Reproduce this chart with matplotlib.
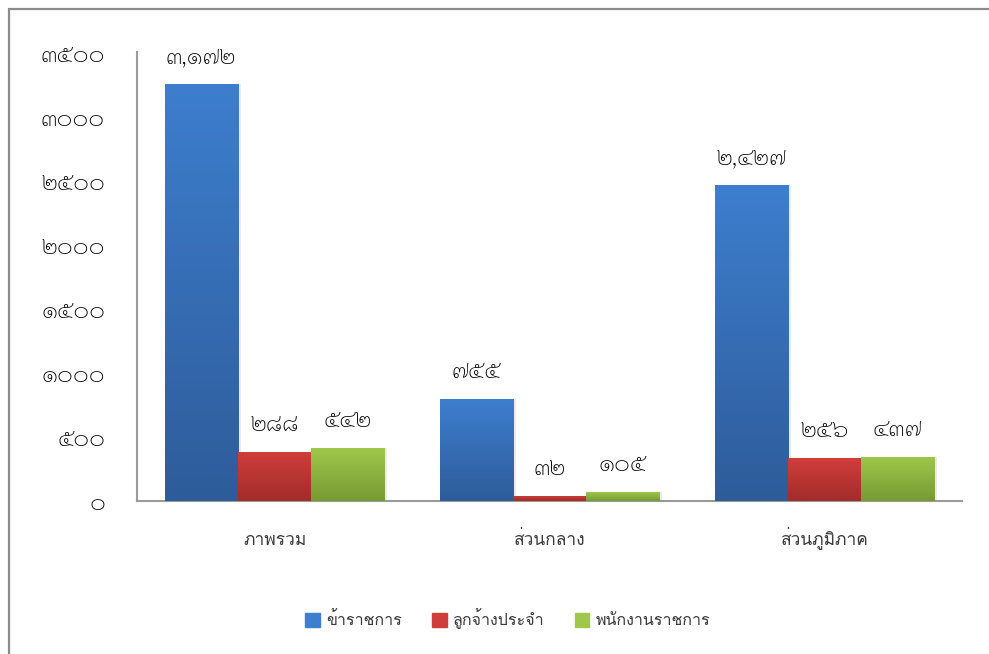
import numpy as np
import matplotlib
matplotlib.use("Agg")
import matplotlib.pyplot as plt
from matplotlib.colors import LinearSegmentedColormap
from matplotlib.patches import Rectangle

# ---- data ------------------------------------------------------------------
categories = ["ภาพรวม", "ส่วนกลาง", "ส่วนภูมิภาค"]
series = ["ข้าราชการ", "ลูกจ้างประจำ", "พนักงานราชการ"]
# bar heights as drawn (the typed labels don't quite match the drawn bars)
civil_servants = [3250, 795, 2460]
permanent_staff = [382, 39, 335]
gov_employees = [413, 70, 343]
# data labels as typed on the chart
civil_labels = ["๓,๑๗๒", "๗๕๕", "๒,๔๒๗"]
permanent_labels = ["๒๘๘", "๓๒", "๒๕๖"]
gov_labels = ["๕๔๒", "๑๐๕", "๔๓๗"]
y_ticks = [0, 500, 1000, 1500, 2000, 2500, 3000, 3500]
y_tick_labels = ["๐", "๕๐๐", "๑๐๐๐", "๑๕๐๐", "๒๐๐๐", "๒๕๐๐", "๓๐๐๐", "๓๕๐๐"]

# top / bottom of each bar gradient
GRADS = [("#3d7ece", "#2e5c9a"), ("#d03e3b", "#a22c2a"), ("#9fc84a", "#779a33")]
DIGIT_FONT = ["Sarabun", "DejaVu Sans"]
TEXT_FONT = ["Loma", "Noto Sans Thai", "DejaVu Sans"]
TEXT_COL = "#3a3a3a"
W, H = 989, 654


def gradient_bars(ax, x, heights, width, top, bottom):
    cmap = LinearSegmentedColormap.from_list("g", [bottom, top])
    grad = np.linspace(0, 1, 256).reshape(-1, 1)
    bars = ax.bar(x, heights, width, color="none", edgecolor="none", zorder=3)
    for b in bars:
        x0, y0, w, h = b.get_x(), b.get_y(), b.get_width(), b.get_height()
        # soft shadow to the right
        ax.add_patch(Rectangle((x0 + w * 0.04, y0), w, h, color="#000000",
                               alpha=0.08, lw=0, zorder=2))
        im = ax.imshow(grad, extent=(x0, x0 + w, y0, y0 + h), origin="lower",
                       cmap=cmap, aspect="auto", zorder=3)
        im.set_clip_path(b)
    return bars


fig = plt.figure(figsize=(W / 100, H / 100), dpi=100)
fig.patches.append(Rectangle((9 / W, -0.1), 1.2, 1.1 - 9 / H, transform=fig.transFigure,
                             fill=False, edgecolor="#8c8c8c", lw=1.6))

ax = fig.add_axes([137 / W, 1 - 501 / H, (962 - 137) / W, (501 - 52) / H])
x = np.arange(len(categories))
bw = 0.2665
vals = [civil_servants, permanent_staff, gov_employees]
labs = [civil_labels, permanent_labels, gov_labels]
for i, (v, lab) in enumerate(zip(vals, labs)):
    xi = x + (i - 1) * bw
    gradient_bars(ax, xi, v, bw, *GRADS[i])
    for xx, vv, tt in zip(xi, v, lab):
        ax.text(xx, vv + 215, tt, ha="center", va="center", fontsize=17.5,
                family=DIGIT_FONT, weight="light", color="#000000")

ax.set_xlim(-0.5, len(categories) - 0.5)
ax.set_ylim(0, 3500)
ax.set_yticks(y_ticks)
ax.set_yticklabels(y_tick_labels, family=DIGIT_FONT, fontsize=17.5, weight="light")
ax.set_xticks(x)
ax.set_xticklabels(categories, family=TEXT_FONT, fontsize=12.5, va="baseline",
                   color=TEXT_COL)
ax.tick_params(axis="y", length=0, pad=23)
ax.tick_params(axis="x", length=0, pad=32)
for lbl in ax.get_yticklabels():
    lbl.set_y(lbl.get_position()[1])
for s in ["top", "right"]:
    ax.spines[s].set_visible(False)
for s in ["left", "bottom"]:
    ax.spines[s].set_color("#9a9a9a")
    ax.spines[s].set_linewidth(1.5)

handles = [Rectangle((0, 0), 1, 1, color=GRADS[i][0]) for i in range(3)]
leg = fig.legend(handles, series, loc="center", bbox_to_anchor=(508 / W, 1 - 619 / H),
                 ncol=3, frameon=False, prop={"family": TEXT_FONT, "size": 11.5},
                 handlelength=0.9, handleheight=0.9, handletextpad=0.4,
                 columnspacing=1.9)
for t in leg.get_texts():
    t.set_color(TEXT_COL)

fig.savefig("out.png", dpi=100)
